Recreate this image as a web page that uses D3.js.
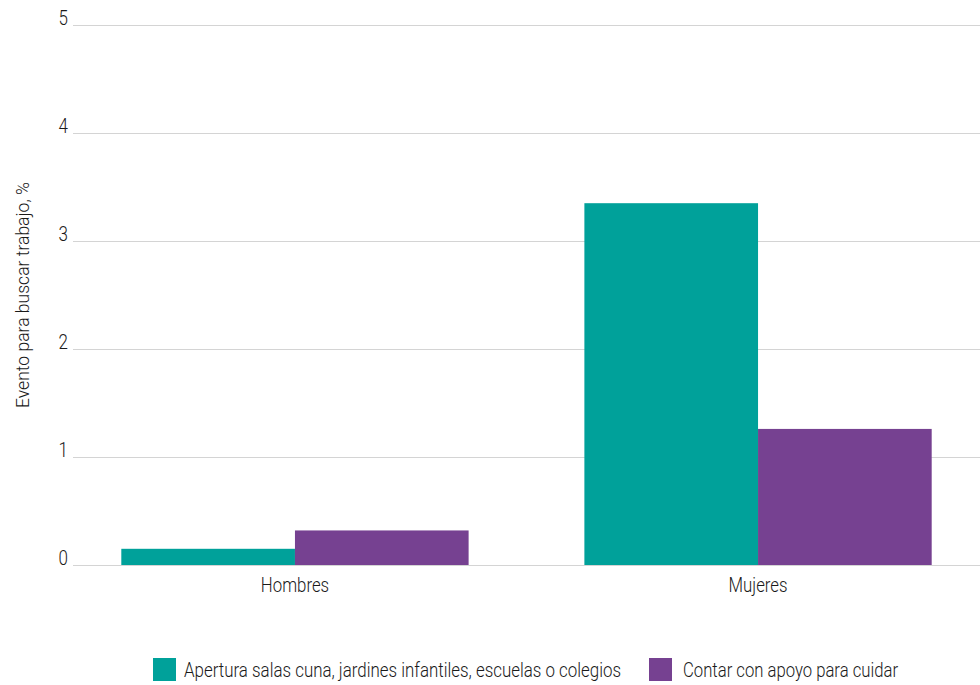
<!DOCTYPE html>
<html>
<head>
<meta charset="utf-8">
<script src="https://cdn.jsdelivr.net/npm/d3@7"></script>
<style>
  html, body { margin: 0; padding: 0; background: #fff; }
  svg { display: block; }
  text { font-family: "Roboto", "Liberation Sans", sans-serif; font-weight: 300; fill: #1a1a1a; }
</style>
</head>
<body>
<svg id="chart" width="980" height="685"></svg>
<script>
// Groups on the x axis and the two series drawn for each
const groups = ["Hombres", "Mujeres"];
const seriesNames = [
  "Apertura salas cuna, jardines infantiles, escuelas o colegios",
  "Contar con apoyo para cuidar"
];
const aperturaValues = [0.15, 3.35];
const apoyoValues = [0.32, 1.26];
const yTicks = [0, 1, 2, 3, 4, 5];
const seriesColors = ["#00a19a", "#764191"];
const yTitle = "Evento para buscar trabajo, %";

const svg = d3.select("#chart");
const margin = { left: 75, right: 2, top: 25, bottom: 120 };
const W = 980, H = 685;

// condensed look: squeeze each label to a narrower width
function condense(sel, factor) {
  sel.each(function () {
    const w = this.getComputedTextLength();
    d3.select(this).attr("textLength", w * factor).attr("lengthAdjust", "spacingAndGlyphs");
  });
}

const x = d3.scaleBand().domain(groups)
  .range([margin.left, W - margin.right])
  .paddingInner(0.25).paddingOuter(0.1);
const xs = d3.scaleBand().domain(seriesNames).range([0, x.bandwidth()]);
const y = d3.scaleLinear().domain([0, 5]).range([H - margin.bottom, margin.top]);

// horizontal gridlines with tick labels
const yAxis = svg.append("g")
  .attr("transform", `translate(${margin.left - 2},0)`)
  .call(d3.axisRight(y).tickValues(yTicks).tickSize(W - margin.left + 2).tickFormat(d3.format("d")));
yAxis.select(".domain").remove();
yAxis.selectAll(".tick line").attr("stroke", "#d4d4d4").attr("stroke-width", 1.2);
yAxis.selectAll(".tick text")
  .attr("x", -5).attr("dy", "-0.02em")
  .attr("text-anchor", "end")
  .style("font-size", "20px").style("fill", "#1a1a1a");
condense(yAxis.selectAll(".tick text"), 0.85);

// bars
const rows = groups.map((g, i) => ({ group: g, values: [aperturaValues[i], apoyoValues[i]] }));
svg.append("g").selectAll("g").data(rows).join("g")
  .attr("transform", d => `translate(${x(d.group)},0)`)
  .selectAll("rect").data(d => d.values.map((v, j) => ({ name: seriesNames[j], v, j })))
  .join("rect")
  .attr("x", d => xs(d.name))
  .attr("width", xs.bandwidth())
  .attr("y", d => y(d.v))
  .attr("height", d => y(0) - y(d.v))
  .attr("fill", d => seriesColors[d.j]);

// group labels
const xAxis = svg.append("g")
  .attr("transform", `translate(0,${y(0)})`)
  .call(d3.axisBottom(x).tickSize(0).tickPadding(13));
xAxis.select(".domain").remove();
xAxis.selectAll(".tick text").style("font-size", "20px").style("fill", "#1a1a1a");
condense(xAxis.selectAll(".tick text"), 0.84);

// y title
const title = svg.append("text")
  .attr("transform", `translate(29,${(y(0) + y(5)) / 2}) rotate(-90)`)
  .attr("text-anchor", "middle")
  .style("font-size", "18px")
  .text(yTitle);
title.attr("textLength", 226).attr("lengthAdjust", "spacingAndGlyphs");

// legend
const legend = svg.append("g").attr("transform", "translate(153,658)");
const legendX = [0, 496];
const legendTextX = [31, 34];
const legendTextW = [437, 215];
seriesNames.forEach((name, i) => {
  const item = legend.append("g").attr("transform", `translate(${legendX[i]},0)`);
  item.append("rect").attr("width", 23).attr("height", 23).attr("fill", seriesColors[i]);
  item.append("text").attr("x", legendTextX[i]).attr("y", 19).style("font-size", "20px")
    .attr("textLength", legendTextW[i]).attr("lengthAdjust", "spacingAndGlyphs")
    .text(name);
});
</script>
</body>
</html>
